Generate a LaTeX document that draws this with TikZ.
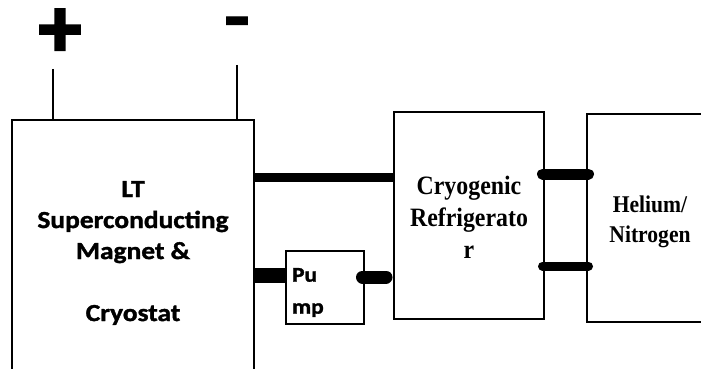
\documentclass[tikz,border=0pt]{standalone}
\usepackage{fontspec}
\newfontfamily\calibri{Carlito}[FakeStretch=1.12, FakeBold=1.5]
\newfontfamily\timesfont{Liberation Serif}[FakeStretch=0.9]
\newfontfamily\signfont{Carlito}[FakeBold=3]
\newcommand{\down}[2]{\raisebox{-#1}[\height][\depth]{#2}}
\usetikzlibrary{positioning}

\begin{document}
\begin{tikzpicture}[x=1pt, y=-1pt,
    unit/.style={rectangle, draw, line width=2pt, align=center, inner sep=0pt},
    sign/.style={inner sep=0pt, font=\signfont\bfseries\fontsize{85}{85}\selectfont},
    lead/.style={line width=2pt},
    bar/.style={line width=10pt},
    rbar/.style={line width=11pt, line cap=round, shorten <=-2.5pt, shorten >=-2.5pt}
  ]
  \useasboundingbox (0,0) rectangle (701,369);
  \clip (0,0) rectangle (701,369);

  \node[unit, minimum width=242pt, minimum height=266pt,
    font=\calibri\bfseries\fontsize{24.5}{31}\selectfont] (magnet) at (133,253)
    {LT\\Superconducting\\Magnet \&\\[31pt]Cryostat};
  \node[unit, minimum width=150pt, minimum height=207pt,
    font=\timesfont\bfseries\fontsize{26.5}{32}\selectfont] (cryo) at (469,215.5)
    {\down{2pt}{Cryogenic}\\\down{2pt}{Refrigerato}\\\down{2pt}{r}};
  \node[unit, right=41pt of cryo, yshift=-2.5pt, minimum width=126pt, minimum height=208pt,
    font=\timesfont\bfseries\fontsize{24}{30}\selectfont] (helium)
    {\down{4pt}{Helium/}\\\down{4pt}{Nitrogen}};
  \node[unit, right=30pt of magnet.east, yshift=-34.5pt, minimum width=78pt,
    minimum height=73pt, align=left, text width=66pt,
    font=\calibri\bfseries\fontsize{21}{32}\selectfont] (pump)
    {\down{5pt}{Pu}\\\down{5pt}{mp}};

  % terminals
  \node[sign] (plus) at (60,33) {+};
  \node[sign, font=\calibri\bfseries\fontsize{75}{75}\selectfont] (minus) at (237,29.5) {-};
  \coordinate (plustop) at (53,69);
  \coordinate (minustop) at (237,65);
  \draw[lead] (plustop) -- (plustop |- magnet.north);
  \draw[lead] (minustop) -- (minustop |- magnet.north);

  % pipes
  \draw[bar, line width=9pt] (magnet.east |- 0,177) -- (cryo.west |- 0,177);
  \draw[bar, line width=15pt] (magnet.east |- 0,275) -- (pump.west |- 0,275);
  \draw[rbar, line width=13pt, shorten >=7pt] (pump.east |- 0,277) -- (cryo.west |- 0,277);
  \draw[rbar] (cryo.east |- 0,174) -- (helium.west |- 0,174);
  \draw[rbar, line width=9pt] (cryo.east |- 0,266) -- (helium.west |- 0,266);
\end{tikzpicture}
\end{document}
